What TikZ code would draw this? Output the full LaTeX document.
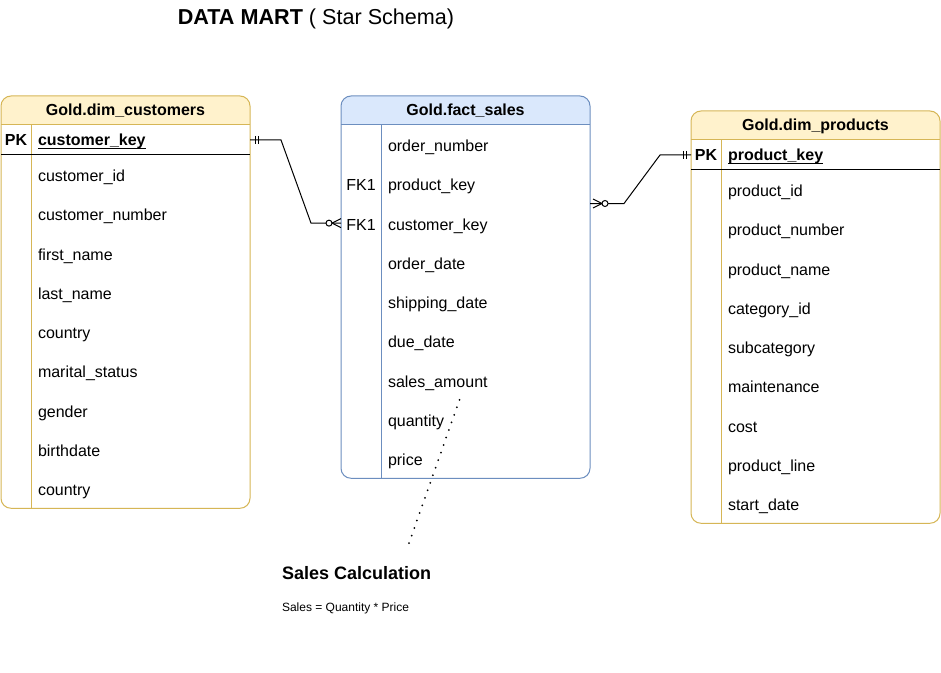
\documentclass[tikz,border=0pt]{standalone}
\usepackage{fontspec}
\setmainfont{Liberation Sans}
\usetikzlibrary{positioning, calc, backgrounds}
\definecolor{goldfill}{HTML}{FFF2CC}
\definecolor{goldline}{HTML}{D6B656}
\definecolor{factfill}{HTML}{DAE8FC}
\definecolor{factline}{HTML}{6C8EBF}
\newsavebox{\keybox}
\newcommand{\ulkey}[1]{\sbox{\keybox}{#1}\rlap{\rule[-2.5pt]{\wd\keybox}{0.9pt}}\usebox{\keybox}}

\begin{document}
\begin{tikzpicture}[x=0.75pt, y=-0.75pt, line width=0.75pt,
    every node/.style={outer sep=0pt},
    title/.style={inner sep=0pt, font=\fontsize{16.2}{19}\selectfont},
    tablehead/.style={minimum width=186.75pt, minimum height=21.75pt, inner sep=0pt, text height=9.5pt, text depth=1.5pt, font=\fontsize{12}{14}\selectfont\bfseries},
    field/.style={text width=#1, align=left, inner xsep=5.25pt, inner ysep=0pt, minimum height=29.44pt, text height=11.25pt, text depth=0.75pt, font=\fontsize{12}{14}\selectfont},
    field/.default=153.75pt,
    pkfield/.style={field, minimum height=22.5pt, text height=10.5pt, text depth=1.5pt, font=\fontsize{12}{14}\selectfont\bfseries},
    pkcell/.style={minimum width=22.5pt, inner sep=0pt, text height=10.5pt, text depth=1.5pt, font=\fontsize{12}{14}\selectfont\bfseries},
    fkcell/.style={minimum width=30pt, inner sep=0pt, text height=11.25pt, text depth=0.75pt, font=\fontsize{12}{14}\selectfont},
    rel/.style={black, line width=0.75pt},
    dotline/.style={line width=1.5pt, line cap=round, dash pattern=on 0pt off 6pt},
]
\useasboundingbox (0,0) rectangle (941,673);
\begin{scope}[on background layer]
  \fill[white] (0,0) rectangle (941,673);
\end{scope}

% Title
\node[title] (title) at (316,19) {\textbf{DATA MART} ( Star Schema)};

% Gold.dim_customers
\node[tablehead] (ch) at (125.5,110.5) {Gold.dim\_customers};
\node[pkfield, anchor=north east] (c0) at (ch.south east) {\ulkey{customer\_key}};
\node[pkcell, left=0pt of c0] (c0k) {PK};
\node[field, below=0pt of c0] (c1) {customer\_id};
\node[field, below=0pt of c1] (c2) {customer\_number};
\node[field, below=0pt of c2] (c3) {first\_name};
\node[field, below=0pt of c3] (c4) {last\_name};
\node[field, below=0pt of c4] (c5) {country};
\node[field, below=0pt of c5] (c6) {marital\_status};
\node[field, below=0pt of c6] (c7) {gender};
\node[field, below=0pt of c7] (c8) {birthdate};
\node[field, below=0pt of c8] (c9) {country};

% Gold.fact_sales
\node[tablehead] (fh) at (465.5,110.5) {Gold.fact\_sales};
\node[field=146.25pt, anchor=north east] (f1) at (fh.south east) {order\_number};
\node[field=146.25pt, below=0pt of f1] (f2) {product\_key};
\node[field=146.25pt, below=0pt of f2] (f3) {customer\_key};
\node[field=146.25pt, below=0pt of f3] (f4) {order\_date};
\node[field=146.25pt, below=0pt of f4] (f5) {shipping\_date};
\node[field=146.25pt, below=0pt of f5] (f6) {due\_date};
\node[field=146.25pt, below=0pt of f6] (f7) {sales\_amount};
\node[field=146.25pt, below=0pt of f7] (f8) {quantity};
\node[field=146.25pt, below=0pt of f8] (f9) {price};
\node[fkcell, left=0pt of f2] (f2k) {FK1};
\node[fkcell, left=0pt of f3] (f3k) {FK1};

% Gold.dim_products
\node[tablehead] (ph) at (815.5,125.5) {Gold.dim\_products};
\node[pkfield, anchor=north east] (p0) at (ph.south east) {\ulkey{product\_key}};
\node[pkcell, left=0pt of p0] (p0k) {PK};
\node[field, below=0pt of p0] (p1) {product\_id};
\node[field, below=0pt of p1] (p2) {product\_number};
\node[field, below=0pt of p2] (p3) {product\_name};
\node[field, below=0pt of p3] (p4) {category\_id};
\node[field, below=0pt of p4] (p5) {subcategory};
\node[field, below=0pt of p5] (p6) {maintenance};
\node[field, below=0pt of p6] (p7) {cost};
\node[field, below=0pt of p7] (p8) {product\_line};
\node[field, below=0pt of p8] (p9) {start\_date};

% Table frames
\begin{scope}[on background layer]
  \begin{scope}
    \clip[rounded corners=7.5pt] (ch.north west) rectangle (c9.south east);
    \fill[goldfill] (ch.north west) rectangle (ch.south east);
  \end{scope}
  \begin{scope}
    \clip[rounded corners=7.5pt] (fh.north west) rectangle (f9.south east);
    \fill[factfill] (fh.north west) rectangle (fh.south east);
  \end{scope}
  \begin{scope}
    \clip[rounded corners=7.5pt] (ph.north west) rectangle (p9.south east);
    \fill[goldfill] (ph.north west) rectangle (ph.south east);
  \end{scope}
\end{scope}
\draw[goldline, rounded corners=7.5pt] (ch.north west) rectangle (c9.south east);
\draw[goldline] (ch.south west) -- (ch.south east);
\draw[goldline] (c0.north west) -- (c9.south west);
\draw (c0.south -| ch.west) -- (c0.south east);

\draw[factline, rounded corners=7.5pt] (fh.north west) rectangle (f9.south east);
\draw[factline] (fh.south west) -- (fh.south east);
\draw[factline] (f1.north west) -- (f9.south west);

\draw[goldline, rounded corners=7.5pt] (ph.north west) rectangle (p9.south east);
\draw[goldline] (ph.south west) -- (ph.south east);
\draw[goldline] (p0.north west) -- (p9.south west);
\draw (p0.south -| ph.west) -- (p0.south east);

% customers -> fact_sales (one to zero-or-many)
\draw[rel] (c0.east) -- ++(31,0) -- ($(f3k.west)+(-30,0)$) -- (f3k.west);
\draw[rel, shift={(c0.east)}] (5,-4) -- (5,4) (8,-4) -- (8,4);
\draw[rel, shift={(f3k.west)}] (0,-4.5) -- (-9,0) -- (0,4.5);
\draw[rel, fill=white, shift={(f3k.west)}] (-12,0) circle[radius=3];

% fact_sales -> products (zero-or-many to one)
\coordinate (fright) at ($(f2.east)!0.5!(f3.east)$);
\draw[rel] (fright) -- ++(34,0) -- ($(p0k.west)+(-31,0)$) -- (p0k.west);
\draw[rel, shift={(fright)}] (3,-4.5) -- (12,0) -- (3,4.5);
\draw[rel, fill=white, shift={(fright)}] (15,0) circle[radius=3];
\draw[rel, shift={(p0k.west)}] (-5,-4) -- (-5,4) (-8,-4) -- (-8,4);

% Sales note
\node[anchor=west, inner sep=0pt, font=\fontsize{13.5}{16}\selectfont\bfseries] (calc) at (282,573) {Sales Calculation};
\node[anchor=west, inner sep=0pt, font=\fontsize{9}{11}\selectfont] (calcrule) at (282,608) {Sales = Quantity * Price};
\coordinate (memo) at (408,546);
\draw[dotline] ([xshift=-19.5pt]f7.south) -- (memo);
\end{tikzpicture}
\end{document}
